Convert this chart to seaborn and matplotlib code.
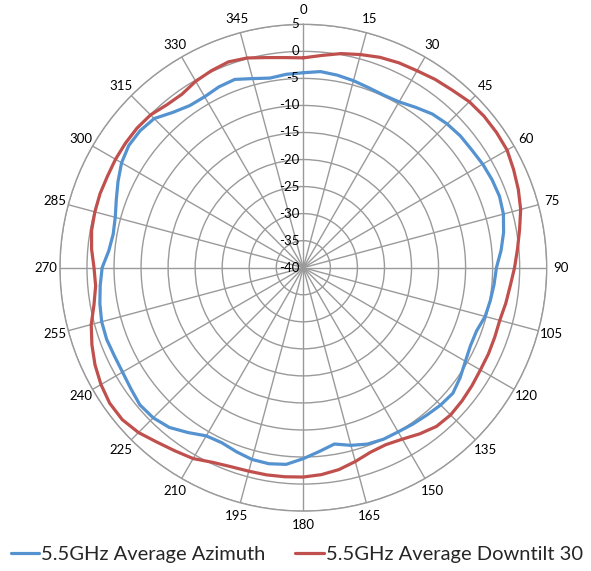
import numpy as np
import pandas as pd
import matplotlib
matplotlib.use("Agg")
import matplotlib.pyplot as plt
import seaborn as sns
from matplotlib.transforms import offset_copy

# ---- data ----
angles_deg = list(range(0, 360, 5))
azimuth_db = [-3.95, -3.6, -3.85, -4.2, -4.6, -4.8, -4.6, -3.8, -2.9, -2.4,
              -2.1, -2.0, -1.7, -1.5, -1.4, -1.7, -2.4, -3.3, -4.3, -4.6,
              -4.9, -5.2, -5.9, -5.9, -5.4, -4.6, -3.9, -4.1, -4.45, -4.7,
              -4.95, -5.0, -5.3, -6.0, -6.9, -5.9, -4.7, -3.5, -3.2, -3.3,
              -3.8, -4.3, -4.1, -2.8, -1.45, -0.75, -0.55, -1.05, -1.4, -1.45,
              -1.3, -1.4, -1.8, -2.3, -2.8, -3.9, -4.3, -4.0, -3.2, -2.2,
              -1.2, -0.6, -0.6, -1.0, -2.5, -3.4, -3.5, -3.1, -2.95, -3.8,
              -4.4, -4.1]
downtilt_db = [-1.2, -0.6, 0.2, 0.8, 1.4, 1.8, 2.05, 2.5, 2.85, 3.4,
               3.6, 3.6, 3.5, 2.9, 2.3, 1.6, 0.6, -0.25, -0.95, -1.6,
               -2.0, -2.4, -2.35, -2.25, -2.2, -1.95, -1.7, -1.5, -1.7, -2.5,
               -3.4, -3.9, -3.7, -2.9, -2.1, -1.6, -1.3, -1.2, -1.1, -1.05,
               -0.85, -0.3, 0.75, 1.35, 2.1, 3.1, 3.7, 3.7, 3.2, 2.5,
               1.6, 0.6, -0.7, -1.45, -1.3, -0.7, -0.25, -0.1, 0.0, -0.03,
               0.1, 0.15, 0.15, -0.05, -0.7, -0.85, -0.2, 0.2, 0.5, 0.15,
               -0.55, -1.0]
series_names = ["5.5GHz Average Azimuth", "5.5GHz Average Downtilt 30"]
theta_ticks = list(range(0, 360, 15))
r_ticks = list(range(-40, 6, 5))

BLUE = "#5592D0"
RED = "#C0504D"
GRID = "#9A9A9A"

sns.set_style("white")
plt.rcParams["font.family"] = ["Lato", "DejaVu Sans"]

# build long table, closing each loop
rows = []
for name, vals in zip(series_names, [azimuth_db, downtilt_db]):
    for a, v in list(zip(angles_deg, vals)) + [(360, vals[0])]:
        rows.append({"theta": np.deg2rad(a), "db": v, "series": name})
df = pd.DataFrame(rows)

fig = plt.figure(figsize=(5.91, 5.71), dpi=100)
ax = fig.add_axes([0.1014, 0.1049, 0.8237, 0.8525], projection="polar")
ax.set_theta_zero_location("N")
ax.set_theta_direction(-1)

sns.lineplot(data=df, x="theta", y="db", hue="series", palette=[BLUE, RED],
             sort=False, estimator=None, linewidth=2.3, ax=ax, legend=False)

ax.set_ylim(-40, 5)
ax.set_yticks(r_ticks)
ax.set_yticklabels([])
ax.set_xticks(np.deg2rad(theta_ticks))
ax.set_xticklabels([str(t) for t in theta_ticks], fontsize=9.5, color="black")
ax.tick_params(axis="x", pad=-0.5)
ax.grid(True, color=GRID, linewidth=1.0)
ax.spines["polar"].set_color(GRID)
ax.spines["polar"].set_linewidth(1.0)
ax.set_xlabel("")
ax.set_ylabel("")

tr = offset_copy(ax.transData, fig=fig, x=-4, y=0, units="dots")
for r in r_ticks:
    ax.text(0, r, str(r), transform=tr, ha="right", va="center",
            fontsize=9.5, color="black")

handles = ax.get_lines()[:2]
fig.legend(handles, series_names, loc="center", bbox_to_anchor=(0.502, 0.029),
           ncol=2, frameon=False, fontsize=14.5, handlelength=1.4,
           handletextpad=0.1, columnspacing=1.5)

fig.savefig("out.png", dpi=100)
